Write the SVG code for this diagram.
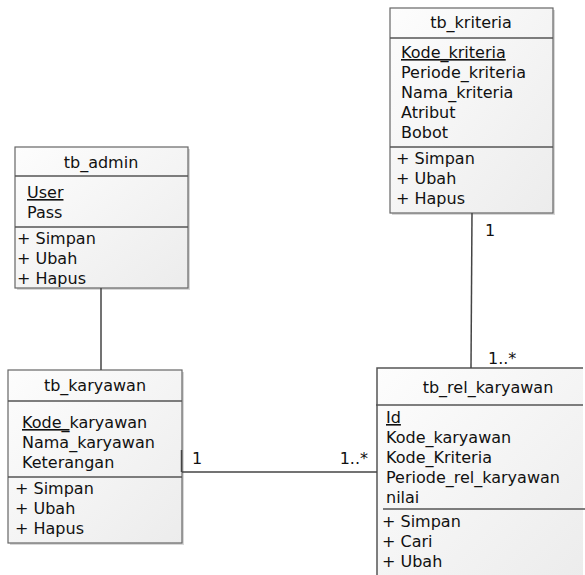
<svg xmlns="http://www.w3.org/2000/svg" width="585" height="575" viewBox="0 0 585 575">
<defs>
<linearGradient id="g" x1="0" y1="0" x2="1" y2="1">
<stop offset="0" stop-color="#fdfdfd"/>
<stop offset="1" stop-color="#ececec"/>
</linearGradient>
</defs>
<style>
text{font-family:"DejaVu Sans",Verdana,sans-serif;font-size:16px;fill:#111}
.t{text-anchor:middle}
.u{text-decoration:underline}
.box{fill:url(#g);stroke:#666;stroke-width:1.2}
.sh{fill:#d8d8d8}
.sep{stroke:#555;stroke-width:1.5;fill:none}
.c{stroke:#444;stroke-width:1.5;fill:none}
</style>
<rect width="585" height="575" fill="#fff"/>
<g id="tb_kriteria">
<rect class="sh" x="392" y="10" width="163" height="205"/>
<rect class="box" x="390" y="8" width="163" height="205"/>
<line class="sep" x1="390" y1="38" x2="553" y2="38"/>
<line class="sep" x1="390" y1="147" x2="553" y2="147"/>
<text class="t" x="471" y="28">tb_kriteria</text>
<text class="u" x="401" y="58">Kode_kriteria</text>
<text x="401" y="78">Periode_kriteria</text>
<text x="401" y="98">Nama_kriteria</text>
<text x="401" y="118">Atribut</text>
<text x="401" y="138">Bobot</text>
<text x="396" y="164">+ Simpan</text>
<text x="396" y="184">+ Ubah</text>
<text x="396" y="204">+ Hapus</text>
</g>
<g id="tb_admin">
<rect class="sh" x="17" y="149" width="173" height="141"/>
<rect class="box" x="15" y="147" width="173" height="141"/>
<line class="sep" x1="15" y1="176" x2="188" y2="176"/>
<line class="sep" x1="15" y1="227" x2="188" y2="227"/>
<text class="t" x="101" y="168">tb_admin</text>
<text class="u" x="27" y="198">User</text>
<text x="27" y="218">Pass</text>
<text x="17" y="244">+ Simpan</text>
<text x="17" y="264">+ Ubah</text>
<text x="17" y="284">+ Hapus</text>
</g>
<g id="tb_karyawan">
<rect class="sh" x="10" y="372" width="174" height="173"/>
<rect class="box" x="8" y="370" width="174" height="173"/>
<line class="sep" x1="8" y1="401" x2="182" y2="401"/>
<line class="sep" x1="8" y1="477" x2="182" y2="477"/>
<text class="t" x="95" y="391">tb_karyawan</text>
<text x="22" y="428"><tspan class="u">Kode_</tspan>karyawan</text>
<text x="22" y="448">Nama_karyawan</text>
<text x="22" y="468">Keterangan</text>
<text x="15" y="494">+ Simpan</text>
<text x="15" y="514">+ Ubah</text>
<text x="15" y="534">+ Hapus</text>
</g>
<g id="tb_rel_karyawan">
<rect x="377" y="368" width="206" height="210" fill="url(#g)"/>
<path class="sep" d="M377,580 V368 H583" stroke="#666" stroke-width="1.2"/>
<line class="sep" x1="376" y1="405" x2="583" y2="405"/>
<line class="sep" x1="383" y1="509" x2="585" y2="509"/>
<text class="t" x="488" y="393">tb_rel_karyawan</text>
<text class="u" x="386" y="423">Id</text>
<text x="386" y="443">Kode_karyawan</text>
<text x="386" y="463">Kode_Kriteria</text>
<text x="386" y="483">Periode_rel_karyawan</text>
<text x="386" y="503">nilai</text>
<text x="382" y="527">+ Simpan</text>
<text x="382" y="547">+ Cari</text>
<text x="382" y="567">+ Ubah</text>
</g>
<g id="connectors">
<line class="c" x1="101" y1="288" x2="101" y2="370"/>
<line class="c" x1="472" y1="213" x2="471" y2="368"/>
<line class="c" x1="182" y1="472" x2="377" y2="472"/>
<line class="c" x1="181.5" y1="450" x2="181.5" y2="472"/>
<text x="485" y="236">1</text>
<text x="488" y="364">1..*</text>
<text x="192" y="464">1</text>
<text x="368" y="464" text-anchor="end">1..*</text>
</g>
</svg>
